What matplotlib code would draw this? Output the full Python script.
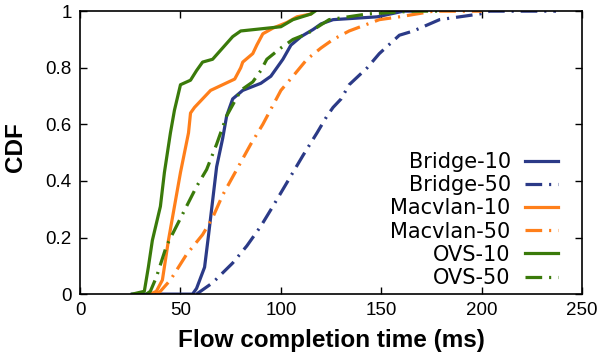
import matplotlib
matplotlib.use('Agg')
import matplotlib.pyplot as plt

# flow completion times (ms) and their cumulative fractions
bridge10_x = [26, 56, 58, 62, 64, 66, 68, 71, 73, 76, 81, 90, 95, 98, 101, 105, 110, 116, 120, 126, 148, 161, 170]
bridge10_y = [0, 0, 0.02, 0.095, 0.21, 0.33, 0.45, 0.55, 0.63, 0.69, 0.72, 0.745, 0.77, 0.80, 0.83, 0.88, 0.91, 0.935, 0.955, 0.97, 0.98, 1.0, 1.0]

bridge50_x = [58, 60, 66, 76, 83, 90, 96, 101, 106, 111, 118, 123, 126, 130, 134, 143, 149, 159, 166, 179, 184, 199, 204, 237]
bridge50_y = [0, 0.01, 0.04, 0.11, 0.17, 0.24, 0.31, 0.37, 0.43, 0.49, 0.57, 0.63, 0.66, 0.69, 0.74, 0.80, 0.85, 0.915, 0.93, 0.97, 0.975, 0.99, 1.0, 1.0]

macvlan10_x = [35, 38, 41, 44, 47, 50, 52, 54, 55, 57, 61, 65, 71, 77, 80, 81, 86, 88, 91, 96, 103, 108, 115, 116]
macvlan10_y = [0, 0.01, 0.05, 0.19, 0.31, 0.43, 0.50, 0.57, 0.64, 0.66, 0.69, 0.72, 0.74, 0.76, 0.80, 0.82, 0.85, 0.88, 0.92, 0.94, 0.96, 0.98, 0.99, 1.0]

macvlan50_x = [38, 40, 45, 53, 61, 66, 71, 78, 85, 91, 100, 106, 113, 120, 126, 134, 149, 159, 176, 200]
macvlan50_y = [0, 0.01, 0.05, 0.14, 0.21, 0.27, 0.35, 0.44, 0.53, 0.60, 0.72, 0.77, 0.83, 0.87, 0.90, 0.93, 0.97, 0.98, 1.0, 1.0]

ovs10_x = [26, 32, 34, 36, 40, 42, 45, 47, 50, 55, 58, 61, 66, 71, 76, 80, 100, 106, 115, 117]
ovs10_y = [0, 0.01, 0.095, 0.19, 0.31, 0.43, 0.57, 0.65, 0.74, 0.756, 0.79, 0.82, 0.83, 0.87, 0.91, 0.93, 0.945, 0.97, 0.99, 1.0]

ovs50_x = [33, 35, 38, 43, 48, 53, 58, 63, 68, 73, 80, 86, 90, 93, 100, 106, 113, 124, 143, 166, 180]
ovs50_y = [0, 0.01, 0.06, 0.17, 0.24, 0.31, 0.38, 0.44, 0.53, 0.63, 0.72, 0.75, 0.79, 0.83, 0.87, 0.90, 0.92, 0.97, 0.99, 1.0, 1.0]

x_ticks = [0, 50, 100, 150, 200, 250]
y_ticks = [0, 0.2, 0.4, 0.6, 0.8, 1]
y_tick_labels = ['0', '0.2', '0.4', '0.6', '0.8', '1']

blue = '#2b3a87'
orange = '#ff7f1a'
green = '#3a7a0a'
dashdot = (12, 5, 1.5, 5)

plt.rcParams['font.family'] = ['Liberation Sans', 'DejaVu Sans']
plt.rcParams['lines.scale_dashes'] = False

fig = plt.figure(figsize=(6.02, 3.60), dpi=100)
ax = fig.add_axes([0.133, 0.183, 0.834, 0.786])

series = [
    (bridge10_x, bridge10_y, blue, None, 'Bridge-10'),
    (bridge50_x, bridge50_y, blue, dashdot, 'Bridge-50'),
    (macvlan10_x, macvlan10_y, orange, None, 'Macvlan-10'),
    (macvlan50_x, macvlan50_y, orange, dashdot, 'Macvlan-50'),
    (ovs10_x, ovs10_y, green, None, 'OVS-10'),
    (ovs50_x, ovs50_y, green, dashdot, 'OVS-50'),
]
for xs, ys, col, dash, name in series:
    line, = ax.plot(xs, ys, color=col, lw=2.3, label=name)
    if dash:
        line.set_dashes(dash)

ax.set_xlim(0, 250)
ax.set_ylim(0, 1)
ax.set_xticks(x_ticks)
ax.set_yticks(y_ticks)
ax.set_yticklabels(y_tick_labels)
ax.tick_params(direction='in', length=5, width=1, labelsize=13.5,
               top=True, right=True, pad=6)
for sp in ax.spines.values():
    sp.set_linewidth(1.2)

ax.set_xlabel('Flow completion time (ms)', fontsize=17.5, fontweight='bold', labelpad=7)
ax.set_ylabel('CDF', fontsize=17.5, fontweight='bold')
ax.yaxis.set_label_coords(-0.106, 0.52)

leg = ax.legend(loc='lower right', bbox_to_anchor=(0.976, -0.022), frameon=False,
                markerfirst=False, handlelength=1.55, handletextpad=0.7,
                labelspacing=0.15, borderaxespad=0.2,
                prop={'family': 'DejaVu Sans', 'size': 15})

fig.savefig('out.png', dpi=100)
